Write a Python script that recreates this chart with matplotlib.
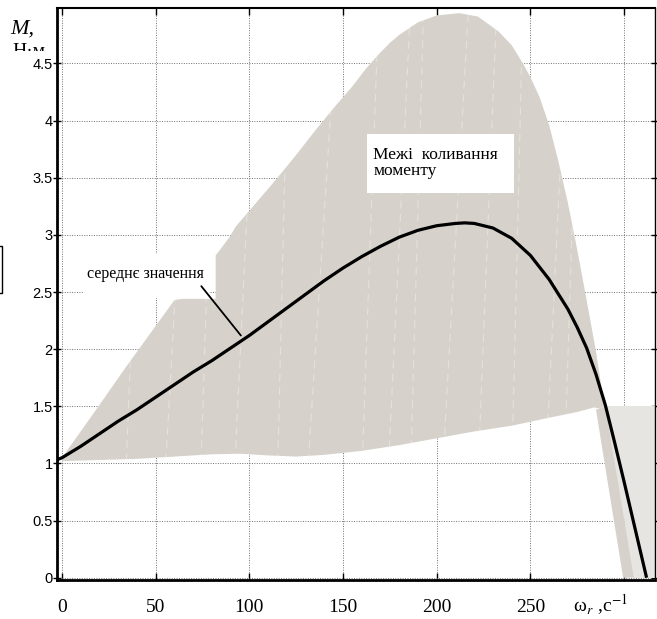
"""
Torque vs rotor speed: envelope of torque oscillation with the mean curve.
"""
import numpy as np
import matplotlib
matplotlib.use("Agg")
import matplotlib.pyplot as plt
from matplotlib.patches import Rectangle, Polygon
from matplotlib.transforms import Bbox, TransformedBbox

plt.rcParams["mathtext.fontset"] = "stix"

# upper bound of the oscillation band (jump at ~82 rad/s)
omega_upper = [0, 18.6, 33.5, 60, 64, 82, 82, 89.4, 92.6, 114, 125, 135, 145, 155,
               162, 169, 175, 180, 190, 200, 212, 222, 233, 240, 246, 250, 255, 260,
               265, 270, 275, 280, 285, 289.5]
torque_upper = [1.05, 1.48, 1.83, 2.43, 2.44, 2.44, 2.82, 2.98, 3.07, 3.48, 3.70,
                3.91, 4.11, 4.30, 4.45, 4.58, 4.68, 4.75, 4.86, 4.92, 4.94, 4.91,
                4.78, 4.66, 4.50, 4.38, 4.20, 3.96, 3.64, 3.28, 2.87, 2.43, 1.98, 1.5]
# lower bound of the oscillation band
omega_lower = [0, 20, 40, 60, 80, 95, 110, 125, 140, 160, 180, 200, 220, 240, 260,
               275, 284, 287]
torque_lower = [1.02, 1.03, 1.04, 1.06, 1.08, 1.085, 1.07, 1.06, 1.075, 1.11, 1.16,
                1.22, 1.28, 1.33, 1.40, 1.45, 1.49, 1.48]
# band after the breakdown point
omega_tail = [285, 290, 316.5, 316.5, 305.3, 299.5]
torque_tail = [1.47, 1.5, 1.5, 0, 0, 0]
# mean torque
omega_mean = [-3, 0, 10, 20, 30, 40, 50, 60, 70, 80, 90, 100, 110, 120, 130, 140, 150,
              160, 170, 180, 190, 200, 210, 215, 220, 230, 240, 250, 260, 270, 275,
              280, 285, 290, 295, 300, 304, 312]
torque_mean = [1.03, 1.05, 1.15, 1.26, 1.37, 1.47, 1.58, 1.69, 1.80, 1.90, 2.01, 2.12,
               2.24, 2.36, 2.48, 2.60, 2.71, 2.81, 2.90, 2.98, 3.04, 3.08, 3.10, 3.105,
               3.10, 3.06, 2.97, 2.82, 2.61, 2.35, 2.19, 2.01, 1.78, 1.51, 1.18, 0.84,
               0.56, 0.0]

x_ticks = [0, 50, 100, 150, 200, 250, 300]
x_labels = ["0", "50", "100", "150", "200", "250", ""]
y_ticks = [0, 0.5, 1, 1.5, 2, 2.5, 3, 3.5, 4, 4.5]
y_labels = ["0", "0.5", "1", "1.5", "2", "2.5", "3", "3.5", "4", "4.5"]

GRAY = "#d6d2cb"
LIGHT = "#e7e5e1"

fig = plt.figure(figsize=(6.57, 6.19), dpi=100)
ax = fig.add_axes([57 / 657, 39 / 619, 598 / 657, 572 / 619])
ax.set_xlim(-2.7, 316.5)
ax.set_ylim(-0.02, 4.985)
ax.set_axisbelow(True)
ax.grid(True, color="#707070", linestyle=(0, (1, 1.5)), linewidth=0.7)

# oscillation band
poly_x = list(omega_upper) + list(omega_lower[::-1])
poly_y = list(torque_upper) + list(torque_lower[::-1])
band = ax.fill(poly_x, poly_y, color=GRAY, lw=0, zorder=2)[0]
ax.add_patch(Polygon(np.column_stack([omega_tail[1:5], torque_tail[1:5]]),
                     closed=True, color=LIGHT, lw=0, zorder=2))
ax.add_patch(Polygon(np.column_stack([[omega_tail[0], omega_tail[1], omega_tail[4], omega_tail[5]],
                                      [torque_tail[0], torque_tail[1], torque_tail[4], torque_tail[5]]]),
                     closed=True, color=GRAY, lw=0, zorder=2))

# faint streaks inside the band
for x0, dx in [(34, 10), (55, 14), (74, 8), (92, 12), (115, 6), (131, 16), (160, 9),
               (174, 12), (186, 7), (203, 14), (222, 10), (240, 6), (258, 12), (268, 8)]:
    ln, = ax.plot([x0, x0 + dx], [0.9, 5.0], color="white", lw=0.8, alpha=0.35,
                  ls=(0, (7, 5)), zorder=3)
    ln.set_clip_path(band)

ax.plot(omega_mean, torque_mean, color="black", lw=2.3, zorder=5, solid_capstyle="butt")

# label boxes
ax.add_patch(Rectangle((11.2, 2.445), 67.5, 0.385, facecolor="white", lw=0, zorder=1.5))
ax.text(44.5, 2.66, "середнє значення", ha="center", va="center", fontsize=11.5,
        family="Liberation Serif", zorder=6)
ax.annotate("", xy=(96.4, 2.10), xytext=(73.4, 2.57),
            arrowprops=dict(arrowstyle="-", color="black", lw=1.3), zorder=6)

ax.add_patch(Rectangle((162.9, 3.365), 78.1, 0.519, facecolor="white", lw=0, zorder=4))
ax.text(166.2, 3.63, "Межі  коливання\nмоменту", ha="left", va="center", fontsize=12.5,
        family="Liberation Serif", linespacing=1.0, zorder=6)

ax.set_xticks(x_ticks)
ax.set_xticklabels(x_labels, family="Liberation Serif", fontsize=14)
ax.set_yticks(y_ticks)
ax.set_yticklabels(y_labels, family="Liberation Sans", fontsize=10.5)
ax.tick_params(axis="x", direction="in", top=True, length=5, width=1, pad=14)
ax.tick_params(axis="y", direction="inout", right=True, length=6, width=1, pad=0)
for side, w in [("left", 2), ("bottom", 2), ("top", 1.5), ("right", 1)]:
    ax.spines[side].set_linewidth(w)

fig.text(573 / 657, 1 - 612 / 619, "ω$_{r}$ ,c$^{\\mathrm{-1}}$", ha="left",
         va="baseline", fontsize=14, family="Liberation Serif")

fig.text(10 / 657, 1 - 34 / 619, "M,", fontsize=16, style="italic",
         family="Liberation Serif", ha="left", va="baseline")
unit = fig.text(12 / 657, 1 - 56 / 619, "Н·м", fontsize=14, family="Liberation Serif",
                ha="left", va="baseline")
unit.set_clip_box(TransformedBbox(Bbox.from_extents(0, 1 - 51 / 619, 0.2, 1), fig.transFigure))
unit.set_clip_on(True)

fig.add_artist(Rectangle((-0.002, 1 - 293 / 619), 3 / 657, 47 / 619, fill=False,
                         edgecolor="black", lw=1, transform=fig.transFigure))

fig.savefig("out.png", dpi=100)
